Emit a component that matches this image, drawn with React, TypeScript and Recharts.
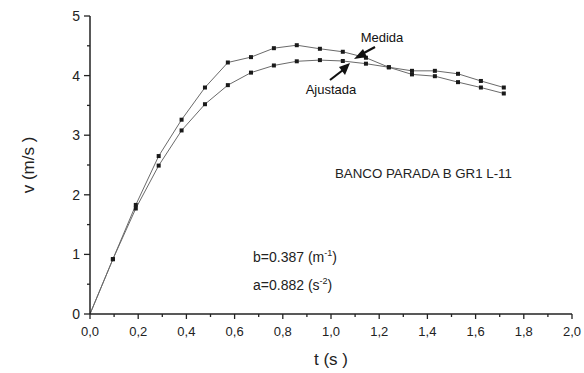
import React from "react";
import { LineChart, Line, XAxis, YAxis } from "recharts";

const times = [0, 0.095, 0.19, 0.285, 0.38, 0.477, 0.572, 0.668, 0.763, 0.858, 0.954, 1.049, 1.145, 1.24, 1.336, 1.431, 1.527, 1.622, 1.717];
const medida = [0, 0.92, 1.83, 2.65, 3.26, 3.8, 4.22, 4.31, 4.46, 4.51, 4.45, 4.4, 4.3, 4.14, 4.08, 4.08, 4.03, 3.91, 3.8];
const ajustada = [0, 0.92, 1.77, 2.49, 3.08, 3.52, 3.84, 4.05, 4.17, 4.24, 4.26, 4.245, 4.2, 4.14, 4.02, 3.99, 3.89, 3.8, 3.7];
const xTicks = [0, 0.1, 0.2, 0.3, 0.4, 0.5, 0.6, 0.7, 0.8, 0.9, 1.0, 1.1, 1.2, 1.3, 1.4, 1.5, 1.6, 1.7, 1.8, 1.9, 2.0];
const yTicks = [0, 0.5, 1, 1.5, 2, 2.5, 3, 3.5, 4, 4.5, 5];

const data = times.map((t, i) => ({ t, medida: medida[i], ajustada: ajustada[i] }));

const FONT = "'Liberation Sans', Arial, sans-serif";
const AXIS = "#222";

const XTick = (props: any) => {
  const { x, y, payload } = props;
  const v = payload.value as number;
  const major = Math.round(v * 10) % 2 === 0;
  return (
    <g>
      <line x1={x} x2={x} y1={y} y2={y + (major ? 5 : 3)} stroke={AXIS} strokeWidth={1.3} />
      {major && (
        <text x={x} y={y + 22} textAnchor="middle" fontSize={13} fontFamily={FONT} fill="#222">
          {v.toFixed(1).replace(".", ",")}
        </text>
      )}
    </g>
  );
};

const YTick = (props: any) => {
  const { x, y, payload } = props;
  const v = payload.value as number;
  const major = Number.isInteger(v);
  return (
    <g>
      <line x1={x} x2={x - (major ? 6 : 3)} y1={y} y2={y} stroke={AXIS} strokeWidth={1.3} />
      {major && (
        <text x={x - 10} y={y + 5} textAnchor="end" fontSize={14} fontFamily={FONT} fill="#222">
          {v}
        </text>
      )}
    </g>
  );
};

const SquareDot = (props: any) => {
  const { cx, cy, index } = props;
  if (index === 0 || cx == null) return <g key={`d${index}`} />;
  return <rect key={`d${index}`} x={cx - 2} y={cy - 2} width={4} height={4} fill="#1a1a1a" />;
};

export default function App() {
  return (
    <div style={{ position: "absolute", left: 0, top: 0, width: 584, height: 373, background: "#fff" }}>
      <LineChart
        width={584}
        height={373}
        data={data}
        margin={{ top: 16, right: 12, bottom: 29, left: 30 }}
      >
        <XAxis
          dataKey="t"
          type="number"
          domain={[0, 2]}
          ticks={xTicks}
          interval={0}
          tick={<XTick />}
          tickLine={false}
          tickSize={0}
          tickMargin={0}
          height={30}
          axisLine={{ stroke: AXIS, strokeWidth: 1.5 }}
        />
        <YAxis
          type="number"
          domain={[0, 5]}
          ticks={yTicks}
          interval={0}
          tick={<YTick />}
          tickLine={false}
          tickSize={0}
          tickMargin={0}
          width={60}
          axisLine={{ stroke: AXIS, strokeWidth: 1.5 }}
        />
        <Line
          dataKey="medida"
          stroke="#6a6a6a"
          strokeWidth={1}
          dot={<SquareDot />}
          isAnimationActive={false}
        />
        <Line
          dataKey="ajustada"
          stroke="#6a6a6a"
          strokeWidth={1}
          dot={<SquareDot />}
          isAnimationActive={false}
        />
      </LineChart>
      <svg
        width={584}
        height={373}
        style={{ position: "absolute", left: 0, top: 0, pointerEvents: "none" }}
        fontFamily={FONT}
      >
        <text x={34} y={165} fontSize={17} fill="#222" textAnchor="middle" transform="rotate(-90 34 165)">
          v (m/s )
        </text>
        <text x={331} y={365} fontSize={17} fill="#222" textAnchor="middle">
          t (s )
        </text>
        <text x={382} y={42} fontSize={13} fill="#111" textAnchor="middle">Medida</text>
        <line x1={375} y1={47} x2={362} y2={54} stroke="#111" strokeWidth={2.2} />
        <polygon points="354,59 363,49 367,57" fill="#111" />
        <text x={331} y={94} fontSize={13} fill="#111" textAnchor="middle">Ajustada</text>
        <line x1={330} y1={80} x2={343} y2={70} stroke="#111" strokeWidth={2.2} />
        <polygon points="350,63 339,67 345,75" fill="#111" />
        <text x={335} y={178} fontSize={13.3} fill="#222">BANCO PARADA B GR1 L-11</text>
        <text x={253} y={262} fontSize={14} fill="#222">
          b=0.387 (m<tspan dy={-6} fontSize={9}>-1</tspan><tspan dy={6}>)</tspan>
        </text>
        <text x={253} y={290} fontSize={14} fill="#222">
          a=0.882 (s<tspan dy={-6} fontSize={9}>-2</tspan><tspan dy={6}>)</tspan>
        </text>
      </svg>
    </div>
  );
}
